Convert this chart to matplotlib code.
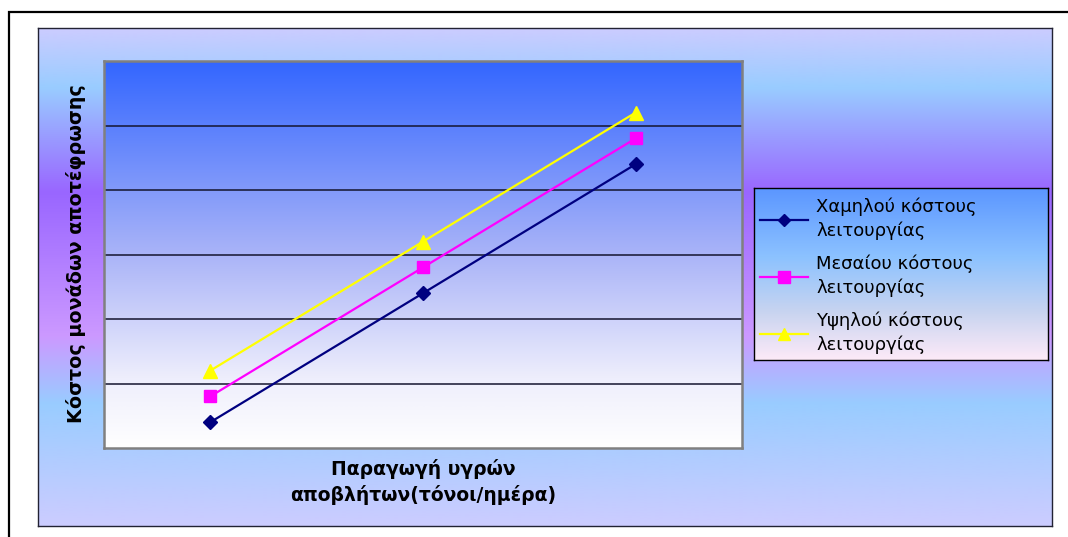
import numpy as np
import matplotlib
matplotlib.use("Agg")
import matplotlib.pyplot as plt
from matplotlib.colors import LinearSegmentedColormap
from matplotlib.lines import Line2D

# ---- data ----
categories = ["Μικρή", "Μεσαία", "Μεγάλη"]
low_cost = [4, 24, 44]
mid_cost = [8, 28, 48]
high_cost = [12, 32, 52]
series_labels = ["Χαμηλού κόστους\nλειτουργίας",
                 "Μεσαίου κόστους\nλειτουργίας",
                 "Υψηλού κόστους\nλειτουργίας"]
x_title = "Παραγωγή υγρών\nαποβλήτων(τόνοι/ημέρα)"
y_title = "Κόστος μονάδων αποτέφρωσης"

W, H = 1068, 537
fig = plt.figure(figsize=(W / 100, H / 100), dpi=100)
fig.patch.set_facecolor("white")


def rect(x0, y0, x1, y1):
    """Pixel box (top-left origin) -> figure fraction rect."""
    return [x0 / W, 1 - y1 / H, (x1 - x0) / W, (y1 - y0) / H]


def vgrad(ax, stops, extent=(0, 1, 0, 1), zorder=0):
    cmap = LinearSegmentedColormap.from_list("g", stops)
    g = np.linspace(0, 1, 512).reshape(-1, 1)
    ax.imshow(g, cmap=cmap, aspect="auto", extent=extent, origin="upper",
              zorder=zorder, interpolation="bilinear")


# outer frame
frame = fig.add_axes([0, 0, 1, 1], zorder=-5)
frame.set_xlim(0, W)
frame.set_ylim(H, 0)
frame.axis("off")
frame.plot([9, 9, W + 5], [H + 5, 12, 12], color="black", lw=1.6,
           solid_joinstyle="miter")

# chart area
ax_bg = fig.add_axes(rect(38, 28, 1052, 526), zorder=-4)
vgrad(ax_bg, [(0.0, "#ccccff"), (0.12, "#99ccff"), (0.33, "#9966ff"),
              (0.62, "#cc99ff"), (0.755, "#99ccff"), (1.0, "#ccccff")])
ax_bg.set_xticks([])
ax_bg.set_yticks([])
for s in ax_bg.spines.values():
    s.set_color("#222233")
    s.set_linewidth(1.0)

# plot area
ax = fig.add_axes(rect(104, 61, 742, 448), zorder=1)
x = np.arange(len(categories))
ax.set_xlim(-0.5, len(categories) - 0.5)
ax.set_ylim(0, 60)
vgrad(ax, [(0.0, "#3366ff"), (0.5, "#aab4f8"), (0.82, "#eeeefc"), (1.0, "#ffffff")],
      extent=(-0.5, len(categories) - 0.5, 0, 60), zorder=0)
ax.set_yticks([10, 20, 30, 40, 50])
ax.set_xticks(x)
ax.tick_params(length=0, labelleft=False, labelbottom=False)
ax.yaxis.grid(True, color="#14142e", lw=1.1, zorder=1)
ax.set_axisbelow(True)
for s in ax.spines.values():
    s.set_color("#808080")
    s.set_linewidth(1.8)

ax.plot(x, low_cost, color="#000080", lw=1.6, marker="D", ms=7,
        mfc="#000080", mec="#000080", zorder=3)
ax.plot(x, mid_cost, color="#ff00ff", lw=1.6, marker="s", ms=8.5,
        mfc="#ff00ff", mec="#ff00ff", zorder=3)
ax.plot(x, high_cost, color="#ffff00", lw=1.6, marker="^", ms=10,
        mfc="#ffff00", mec="#ffff00", zorder=3)

# axis titles
fig.text(76 / W, 1 - 254 / H, y_title, rotation=90, ha="center", va="center",
         fontsize=13.8, fontweight="bold", family="DejaVu Sans")
fig.text(423 / W, 1 - 482 / H, x_title, ha="center", va="center",
         fontsize=13.5, fontweight="bold", family="DejaVu Sans", linespacing=1.42)

# legend box
ax_leg = fig.add_axes(rect(754, 188, 1048, 360), zorder=2)
vgrad(ax_leg, [(0.0, "#5b96ff"), (0.4, "#8cc2ff"), (0.72, "#c8d4f0"),
               (1.0, "#fdeaf8")])
ax_leg.set_xticks([])
ax_leg.set_yticks([])
for s in ax_leg.spines.values():
    s.set_color("black")
    s.set_linewidth(1.0)

handles = [
    Line2D([], [], color="#000080", lw=1.6, marker="D", ms=6, mfc="#000080", mec="#000080"),
    Line2D([], [], color="#ff00ff", lw=1.6, marker="s", ms=8, mfc="#ff00ff", mec="#ff00ff"),
    Line2D([], [], color="#ffff00", lw=1.6, marker="^", ms=9, mfc="#ffff00", mec="#ffff00"),
]
leg = ax_leg.legend(handles, series_labels, loc="upper left",
                    bbox_to_anchor=(-4 / 294, 1.0), frameon=False,
                    prop={"family": "DejaVu Sans", "size": 13},
                    handlelength=2.67, handletextpad=0.45, labelspacing=0.8,
                    borderaxespad=0.0, borderpad=0.55, markerscale=1.0)
for t in leg.get_texts():
    t.set_linespacing(1.38)

fig.savefig("out.png", dpi=100, facecolor="white")
